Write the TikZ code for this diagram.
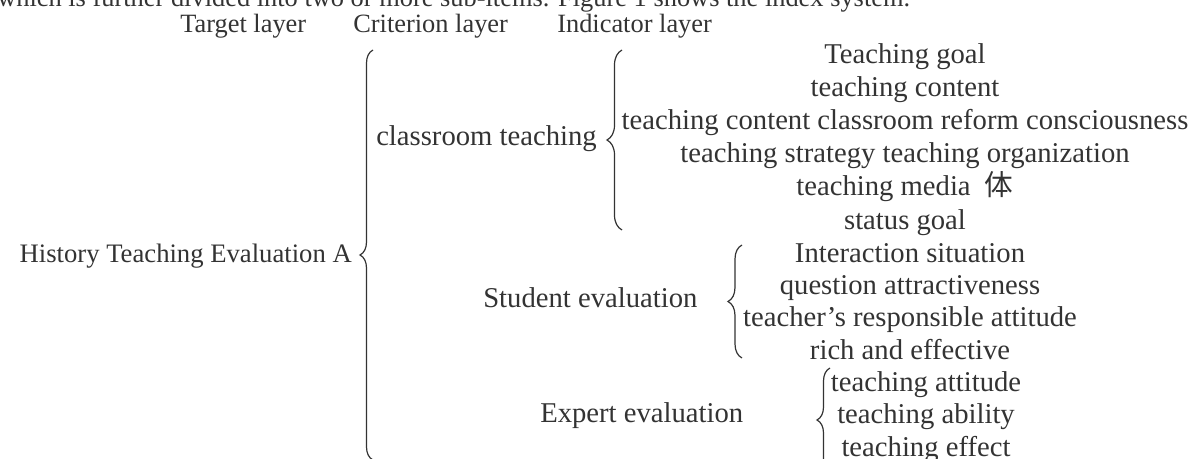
\documentclass[tikz,border=0pt]{standalone}
\usepackage{fontspec}
\setmainfont{Liberation Serif}
\newfontfamily\cjkfont{Noto Sans CJK SC}
\usetikzlibrary{decorations.pathreplacing}
\definecolor{tinta}{HTML}{333333}
\tikzset{
  capa/.style={font=\fontsize{19.8pt}{24pt}\selectfont, text=tinta, inner sep=0pt},
  item/.style={font=\fontsize{21.5pt}{26pt}\selectfont, text=tinta, inner sep=0pt},
  llave/.style={decorate, decoration={brace, amplitude=#1}, draw=tinta, line width=0.9pt},
}

\begin{document}
\begin{tikzpicture}[x=0.75pt, y=-0.75pt]
% Marco
\useasboundingbox (0,0) rectangle (1189,459);
\clip (0,0) rectangle (1189,459);
% Linea de texto cortada
\node[capa, anchor=base west] (linea) at (-3,7) {which is further divided into two or more sub-items. Figure 1 shows the index system.};
% Capas
\node[capa, anchor=base west] (objetivo) at (180,33) {Target layer};
\node[capa, anchor=base west] (criterio) at (353,33) {Criterion layer};
\node[capa, anchor=base west] (indicador) at (557,33) {Indicator layer};
% Objetivo A
\node[item, font=\fontsize{20pt}{24pt}\selectfont, anchor=base east] (A) at (352,263) {History Teaching Evaluation A};
\coordinate (A1) at (373,460);
\coordinate (A2) at (373,50);
\draw[llave=9.75pt] (A1) -- (A2);
% Criterios
\node[item, anchor=base west] (aula) at (376,146) {classroom teaching};
\node[item, anchor=base west] (alumno) at (483,308) {Student evaluation};
\node[item, anchor=base west] (experto) at (540,423) {Expert evaluation};
% Llaves de los criterios
\coordinate (B1) at (622,230);
\coordinate (B2) at (622,50);
\draw[llave=11.25pt] (B1) -- (B2);
\coordinate (C1) at (742,358);
\coordinate (C2) at (742,245);
\draw[llave=10.5pt] (C1) -- (C2);
\coordinate (D1) at (830,472);
\coordinate (D2) at (830,368);
\draw[llave=9.75pt] (D1) -- (D2);
% Indicadores del aula
\node[item, anchor=base] (i1) at (905,63.5) {Teaching goal};
\node[item, anchor=base] (i2) at (905,96.5) {teaching content};
\node[item, anchor=base] (i3) at (905,129.5) {teaching content classroom reform consciousness};
\node[item, anchor=base] (i4) at (905,162.5) {teaching strategy teaching organization};
\node[item, anchor=base] (i5) at (905,196) {teaching media \ {\cjkfont 体}};
\node[item, anchor=base] (i6) at (905,230) {status goal};
% Indicadores del alumno
\node[item, anchor=base] (i7) at (910,263) {Interaction situation};
\node[item, anchor=base] (i8) at (910,295) {question attractiveness};
\node[item, anchor=base] (i9) at (910,327) {teacher's responsible attitude};
\node[item, anchor=base] (i10) at (910,360) {rich and effective};
% Indicadores del experto
\node[item, anchor=base] (i11) at (926,392) {teaching attitude};
\node[item, anchor=base] (i12) at (926,424) {teaching ability};
\node[item, anchor=base] (i13) at (926,456) {teaching effect};
\end{tikzpicture}
\end{document}
